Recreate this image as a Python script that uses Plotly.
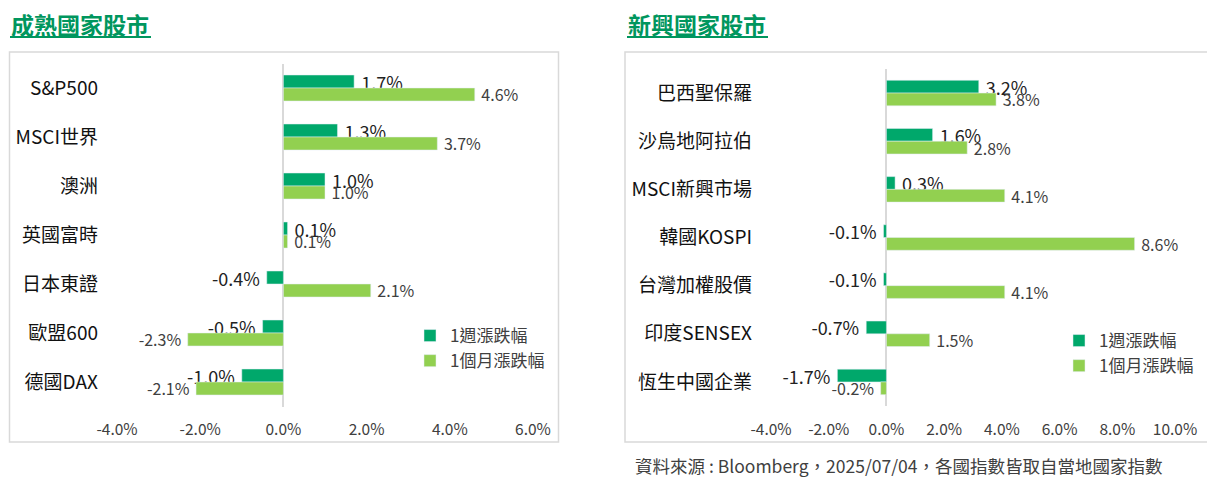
import plotly.graph_objects as go

W, H = 1215, 477
# the page body has an 8px margin, so figure pixels are shifted by that
OFF = 8

# left panel: developed markets
dev_names = ["S&P500", "MSCI世界", "澳洲", "英國富時", "日本東證", "歐盟600", "德國DAX"]
dev_week = [1.7, 1.3, 1.0, 0.1, -0.4, -0.5, -1.0]
dev_month = [4.6, 3.7, 1.0, 0.1, 2.1, -2.3, -2.1]

# right panel: emerging markets
em_names = ["巴西聖保羅", "沙烏地阿拉伯", "MSCI新興市場", "韓國KOSPI", "台灣加權股價", "印度SENSEX", "恆生中國企業"]
em_week = [3.2, 1.6, 0.3, -0.1, -0.1, -0.7, -1.7]
em_month = [3.8, 2.8, 4.1, 8.6, 4.1, 1.5, -0.2]

series_names = ["1週漲跌幅", "1個月漲跌幅"]
dev_xticks = [-4, -2, 0, 2, 4, 6]
em_xticks = [-4, -2, 0, 2, 4, 6, 8, 10]

DARK = "#00A86B"
LIGHT = "#92D050"
TITLE_GREEN = "#00965E"
FONT = "Noto Sans CJK TC"


def px(x):
    return (x - OFF) / W


def py(y):
    return 1 - (y - OFF) / H


def lbl(vals):
    # pad the label away from the bar end
    return [f"\u00a0{v:.1f}%" if v >= 0 else f"{v:.1f}%\u00a0" for v in vals]


fig = go.Figure()

for names, week, month, xa, ya, leg in [
    (dev_names, dev_week, dev_month, "x", "y", "legend"),
    (em_names, em_week, em_month, "x2", "y2", "legend2"),
]:
    fig.add_trace(go.Bar(
        y=names, x=week, orientation="h", name=series_names[0],
        marker_color=DARK, text=lbl(week), textposition="outside",
        textfont=dict(size=18, color="#222222"), cliponaxis=False,
        constraintext="none", xaxis=xa, yaxis=ya, legend=leg,
    ))
    fig.add_trace(go.Bar(
        y=names, x=month, orientation="h", name=series_names[1],
        marker_color=LIGHT, text=lbl(month), textposition="outside",
        textfont=dict(size=16, color="#404040"), cliponaxis=False,
        constraintext="none", xaxis=xa, yaxis=ya, legend=leg,
    ))

xcommon = dict(
    showgrid=False, zeroline=True, zerolinecolor="#D9D9D9", zerolinewidth=1.5,
    showline=False, ticks="", tickmode="array",
    tickfont=dict(size=15.5, color="#404040"), ticklabelstandoff=12,
    fixedrange=True, automargin=False,
)
ycommon = dict(
    type="category", autorange="reversed", showgrid=False, zeroline=False,
    showline=False, ticks="", tickfont=dict(size=19, color="#111111"),
    ticklabelstandoff=18, automargin=False,
)

fig.update_layout(
    width=W, height=H,
    margin=dict(l=0, r=0, t=0, b=0, pad=0, autoexpand=False),
    paper_bgcolor="white", plot_bgcolor="white",
    font=dict(family=FONT),
    barmode="group", bargap=0.47, bargroupgap=0,
    xaxis=dict(xcommon, domain=[px(117), px(533)], range=[-4, 6],
               tickvals=dev_xticks, ticktext=[f"{t:.1f}%" for t in dev_xticks],
               anchor="y"),
    yaxis=dict(ycommon, domain=[py(406.5), py(63.5)], anchor="x"),
    xaxis2=dict(xcommon, domain=[px(771), px(1175)], range=[-4, 10],
                tickvals=em_xticks, ticktext=[f"{t:.1f}%" for t in em_xticks],
                anchor="y2"),
    yaxis2=dict(ycommon, domain=[py(406), py(69)], anchor="x2"),
    legend=dict(x=px(410), y=py(318), xanchor="left", yanchor="top",
                font=dict(size=17, color="#404040"), bgcolor="rgba(0,0,0,0)",
                tracegroupgap=0),
    legend2=dict(x=px(1059), y=py(323), xanchor="left", yanchor="top",
                 font=dict(size=17, color="#404040"), bgcolor="rgba(0,0,0,0)"),
    showlegend=True,
)

# panel frames
for x0, x1 in [(9.5, 558.5), (625, 1209)]:
    fig.add_shape(type="rect", xref="paper", yref="paper",
                  x0=px(x0), x1=px(x1), y0=py(442), y1=py(52),
                  line=dict(color="#D9D9D9", width=1.5), layer="below")

# panel titles with underline
for text, x0, x1 in [("成熟國家股市", 10, 151), ("新興國家股市", 627, 768)]:
    fig.add_annotation(text=f"<b>{text}</b>", xref="paper", yref="paper",
                       x=px(x0), y=py(24), xanchor="left", yanchor="middle",
                       showarrow=False, borderpad=0,
                       font=dict(size=23, color=TITLE_GREEN))
    fig.add_shape(type="line", xref="paper", yref="paper",
                  x0=px(x0), x1=px(x1), y0=py(37), y1=py(37),
                  line=dict(color=TITLE_GREEN, width=2))

fig.add_annotation(text="資料來源 : Bloomberg，2025/07/04，各國指數皆取自當地國家指數",
                   xref="paper", yref="paper", x=px(634), y=py(465),
                   xanchor="left", yanchor="middle", showarrow=False,
                   borderpad=0, font=dict(size=17.5, color="#404040"))

fig.write_html("out.html")
